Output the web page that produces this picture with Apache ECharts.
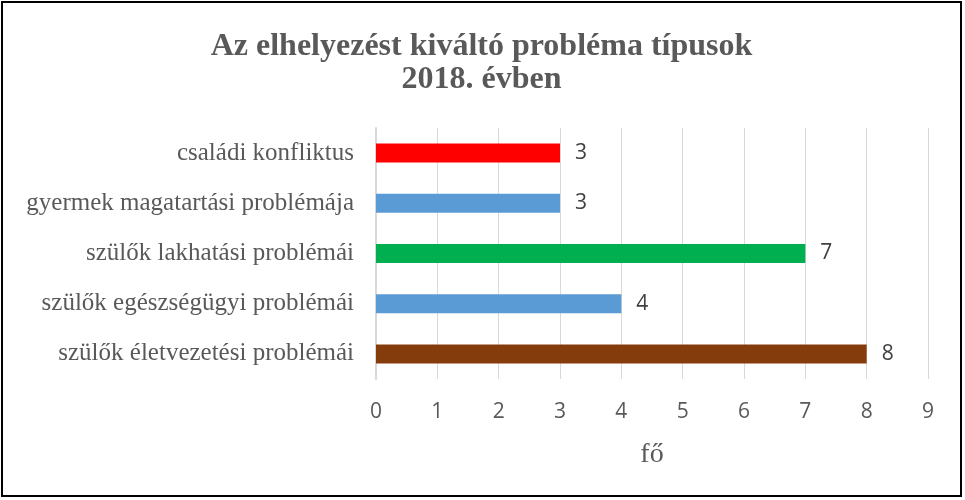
<!DOCTYPE html>
<html>
<head>
<meta charset="utf-8">
<script src="https://cdn.jsdelivr.net/npm/echarts@6/dist/echarts.min.js"></script>
<style>
  html, body { margin: 0; padding: 0; background: #fff; }
  #main { width: 961px; height: 496px; margin: 1px; border: 2px solid #000; box-sizing: border-box; }
</style>
</head>
<body>
<div id="main"></div>
<script>
// categories bottom to top, as the y axis draws them
const categories = [
    'szülők életvezetési problémái',
    'szülők egészségügyi problémái',
    'szülők lakhatási problémái',
    'gyermek magatartási problémája',
    'családi konfliktus'
];
const values = [8, 4, 7, 3, 3];
const barColors = ['#843C0C', '#5B9BD5', '#00B050', '#5B9BD5', '#FF0000'];

const serif = '"Liberation Serif", "DejaVu Serif", serif';
const sans = '"Open Sans", "Liberation Sans", sans-serif';

const myChart = echarts.init(document.getElementById('main'));
const option = {
    animation: false,
    title: {
        text: 'Az elhelyezést kiváltó probléma típusok\n2018. évben',
        left: 'center',
        top: 22,
        textStyle: {
            fontFamily: serif,
            fontSize: 32,
            fontWeight: 'bold',
            color: '#595959',
            lineHeight: 33
        }
    },
    grid: { left: 373, right: 32, top: 125, bottom: 116 },
    xAxis: {
        type: 'value',
        min: 0,
        max: 9,
        interval: 1,
        name: 'fő',
        nameLocation: 'middle',
        nameGap: 62,
        nameTextStyle: { fontFamily: serif, fontSize: 28, color: '#595959' },
        axisLine: { show: false },
        axisTick: { show: false },
        axisLabel: { margin: 23, fontFamily: sans, fontSize: 21, color: '#595959' },
        splitLine: { lineStyle: { color: '#d9d9d9', width: 1 } }
    },
    yAxis: {
        type: 'category',
        data: categories,
        axisLine: { lineStyle: { color: '#d9d9d9', width: 2 } },
        axisTick: { show: false },
        axisLabel: { margin: 22, fontFamily: serif, fontSize: 25, color: '#595959' }
    },
    series: [{
        type: 'bar',
        data: values.map((v, i) => ({ value: v, itemStyle: { color: barColors[i] } })),
        barWidth: 19,
        label: {
            show: true,
            position: 'right',
            distance: 15,
            fontFamily: sans,
            fontSize: 21,
            color: '#404040'
        }
    }]
};
myChart.setOption(option);
</script>
</body>
</html>
